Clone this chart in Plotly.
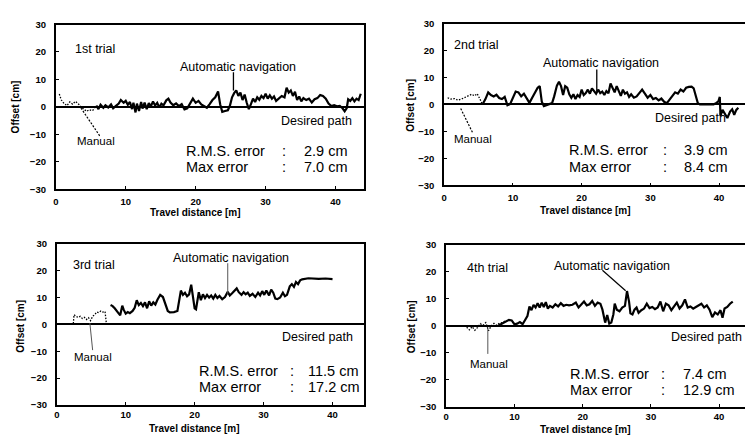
import plotly.graph_objects as go

# ---- Trial 1 ----
t1_manual_x = [0.5, 0.8, 1.2, 1.6, 2.0, 2.4, 2.8, 3.2, 3.6, 4.0, 4.4, 4.8, 5.2, 5.6]
t1_manual_y = [4.7, 2.5, 1.2, 0.5, 1.8, 1.0, 2.0, 1.2, 0.0, -0.8, -1.6, -1.0, -1.4, -0.6]
t1_auto_x = [5.8, 6.1, 6.4, 6.8, 7.1, 7.5, 7.9, 8.2, 8.6, 9.0, 9.3, 9.7, 10.0, 10.3, 10.6,
             10.9, 11.1, 11.4, 11.6, 11.9, 12.2, 12.4, 12.7, 13.0, 13.3, 13.6, 13.9, 14.2,
             14.5, 14.8, 15.1, 15.4, 15.8, 16.1, 16.4, 16.8, 17.2, 17.6, 18.0, 18.4, 18.8,
             19.2, 19.6, 20.0, 20.4, 20.8, 21.2, 21.6, 22.0, 22.4, 22.8, 23.2, 23.5, 23.8,
             24.2, 24.6, 24.9, 25.2, 25.5, 25.8, 26.1, 26.4, 26.7, 27.0, 27.3, 27.6, 27.9,
             28.2, 28.5, 28.8, 29.1, 29.4, 29.7, 30.0, 30.3, 30.6, 30.9, 31.2, 31.5, 31.9,
             32.3, 32.7, 33.0, 33.3, 33.6, 33.9, 34.2, 34.5, 34.8, 35.1, 35.4, 35.8, 36.2,
             36.6, 37.0, 37.4, 37.8, 38.2, 38.6, 39.0, 39.4, 39.8, 40.2, 40.6, 41.0, 41.3,
             41.6, 41.8, 42.1, 42.4, 42.7, 43.0, 43.3, 43.6]
t1_auto_y = [0.5, -0.8, 0.8, -0.3, 0.6, -0.2, 0.9, -0.5, 0.4, 1.2, 2.5, 1.5, 2.2, 0.8, 1.8,
             -0.8, 1.5, -2.0, 1.2, -1.5, 1.8, -0.6, 1.6, -0.8, 1.4, 0.2, 2.0, 0.5,
             1.5, -0.2, 1.2, 0.6, 2.4, 3.0, 1.6, 0.6, 1.3, 0.3, 1.0, -0.9, -0.5,
             1.2, 3.0, 1.5, 2.2, 0.9, 0.2, -0.3, 1.0, 2.5, 3.5, 5.6, 1.0, -1.8,
             -1.5, -1.2, 0.5, 3.5, 5.0, 6.0, 4.0, 5.2, 2.5, 4.5, 1.5, -0.8, 1.0,
             3.0, 1.8, 3.5, 2.6, 4.0, 3.2, 4.8, 3.0, 4.2, 3.0, 3.8, 2.2, 3.2,
             4.0, 3.5, 7.0, 5.2, 6.0, 4.0, 5.5, 2.5, 3.8, 2.0, 3.2, 2.5, 3.0,
             1.6, 2.8, 3.2, 4.3, 4.0, 3.0, 1.2, 0.3, 0.6, 0.2, 0.4, -0.5, -1.6,
             -0.4, 2.8, 2.2, 3.2, 2.0, 3.0, 2.5, 4.8]

# ---- Trial 2 ----
t2_manual_x = [0.5, 1.0, 1.5, 2.0, 2.5, 3.0, 3.5, 4.0, 4.4, 4.8, 5.2, 5.5]
t2_manual_y = [2.5, 2.0, 2.2, 1.6, 2.0, 2.6, 3.0, 3.8, 3.2, 4.0, 2.0, 0.3]
t2_auto_x = [5.6, 6.0, 6.4, 6.8, 7.2, 7.6, 8.0, 8.4, 8.8, 9.2, 9.6, 10.0, 10.4, 10.8, 11.2,
             11.6, 12.0, 12.4, 12.8, 13.2, 13.6, 13.9, 14.2, 14.5, 14.9, 15.3, 15.7, 16.0,
             16.4, 16.7, 17.0, 17.3, 17.6, 17.9, 18.2, 18.5, 18.8, 19.1, 19.4, 19.7, 20.0,
             20.3, 20.6, 20.9, 21.2, 21.5, 21.8, 22.1, 22.4, 22.7, 23.0, 23.3, 23.6, 23.9,
             24.2, 24.5, 24.8, 25.1, 25.4, 25.7, 26.0, 26.3, 26.6, 26.9, 27.2, 27.6, 28.0,
             28.4, 28.8, 29.2, 29.6, 30.0, 30.4, 30.8, 31.2, 31.6, 32.0, 32.4, 32.8, 33.2,
             33.6, 34.0, 34.4, 34.8, 35.2, 35.6, 36.0, 36.3, 36.6, 36.9, 37.2, 38.0, 39.2,
             39.6, 39.9, 40.1, 40.2, 40.5, 40.9, 41.2, 41.6, 41.9, 42.2, 42.5, 42.8]
t2_auto_y = [0.2, 2.0, 4.5, 3.5, 3.0, 3.6, 2.4, 2.0, 2.8, -0.3, 0.2, 2.5, 4.8, 4.5, 3.0,
             4.0, 2.0, 0.6, 2.5, 4.5, 6.2, 6.8, 1.0, -0.6, -0.3, 0.2, 0.5, 3.0,
             7.0, 8.4, 6.8, 3.5, 6.8, 6.2, 3.8, 2.5, 3.8, 2.0, 3.5, 2.8, 5.5,
             3.5, 4.2, 5.5, 4.0, 6.0, 5.0, 4.0, 5.5, 4.2, 4.8, 3.5, 5.0, 4.2,
             7.8, 6.0, 4.5, 6.8, 5.0, 3.2, 5.5, 4.0, 4.5, 2.8, 3.8, 2.5, 3.0,
             4.2, 5.5, 4.0, 2.5, 3.5, 2.0, 2.4, 1.5, 2.2, 1.0, 0.5, 1.8, 3.0,
             4.5, 4.0, 5.5, 4.8, 6.2, 6.5, 6.6, 6.0, 3.0, 0.5, 0.0, 0.0, 0.0,
             0.6, 1.2, 2.8, -4.2, -2.0, -3.5, -5.0, -2.6, -1.8, -3.8, -2.0, -1.2]

# ---- Trial 3 ----
t3_manual_x = [2.4, 2.5, 2.8, 3.1, 3.4, 3.7, 4.0, 4.3, 4.6, 4.9, 5.2, 5.5, 5.8, 6.1, 6.4,
               6.7, 7.0, 7.2]
t3_manual_y = [0.3, 3.6, 3.0, 2.6, 3.0, 2.2, 2.6, 1.8, 2.5, 1.4, 3.0, 3.6, 4.6, 4.4, 5.0,
               4.6, 4.8, 0.2]
t3_auto_x = [7.8, 8.1, 8.4, 8.7, 9.0, 9.2, 9.5, 9.7, 10.0, 10.3, 10.6, 11.0, 11.3, 11.6,
             11.9, 12.2, 12.5, 12.8, 13.1, 13.4, 13.7, 14.0, 14.3, 14.6, 15.0, 15.4, 15.8,
             16.1, 16.4, 17.0, 17.5, 17.8, 18.0, 18.3, 18.6, 18.9, 19.2, 19.5, 19.8, 20.0,
             20.2, 20.4, 20.6, 20.9, 21.2, 21.5, 21.8, 22.1, 22.4, 22.7, 23.0, 23.3, 23.6,
             24.0, 24.4, 24.8, 25.1, 25.4, 25.8, 26.1, 26.4, 26.8, 27.1, 27.4, 27.7, 28.0,
             28.4, 28.8, 29.2, 29.5, 29.8, 30.1, 30.4, 30.8, 31.1, 31.4, 31.7, 32.0, 32.4,
             32.8, 33.1, 33.4, 33.8, 34.1, 34.4, 34.7, 35.0, 35.3, 35.6, 36.5, 38.0, 39.0,
             40.0]
t3_auto_y = [7.2, 6.8, 6.0, 5.2, 4.0, 3.4, 7.0, 5.5, 4.0, 4.6, 4.2, 5.0, 6.2, 9.0,
             7.2, 8.0, 6.8, 8.2, 6.0, 8.6, 7.0, 8.2, 7.4, 9.2, 11.0, 10.2, 7.5,
             5.0, 4.5, 4.6, 5.0, 9.0, 12.6, 11.0, 11.8, 10.5, 11.2, 14.8, 10.0, 6.0,
             5.6, 9.5, 12.0, 9.0, 11.2, 9.8, 11.0, 10.0, 10.8, 9.6, 11.0, 9.8, 10.6,
             9.4, 10.2, 12.2, 10.8, 11.5, 12.8, 13.4, 12.0, 11.0, 12.0, 11.2, 11.8, 10.6,
             11.4, 10.2, 11.8, 10.8, 12.4, 11.0, 12.6, 10.8, 13.0, 11.8, 9.6, 9.4, 10.0,
             11.8, 10.5, 11.0, 14.2, 15.0, 14.0, 15.8, 15.0, 16.4, 16.8, 17.2, 17.0, 17.1,
             16.9]

# ---- Trial 4 ----
t4_manual_x = [3.0, 3.4, 3.8, 4.2, 4.6, 5.0, 5.4, 5.8, 6.2, 6.6, 7.0, 7.4, 7.8, 8.2, 8.6]
t4_manual_y = [-0.5, -1.5, -0.3, -1.6, -0.6, 0.8, 0.2, 1.2, -1.8, 0.0, 0.9, 0.2, 1.0, 1.2, 1.8]
t4_auto_x = [7.6, 8.0, 8.4, 8.8, 9.2, 9.6, 10.0, 10.4, 10.8, 11.2, 11.6, 11.9, 12.2, 12.5,
             12.8, 13.1, 13.4, 13.7, 14.0, 14.3, 14.6, 14.9, 15.2, 15.6, 16.0, 16.4, 16.8,
             17.2, 17.6, 18.0, 18.5, 19.0, 19.4, 19.8, 20.2, 20.6, 21.0, 21.4, 21.8, 22.2,
             22.6, 22.9, 23.1, 23.3, 23.6, 23.9, 24.2, 24.5, 24.7, 25.0, 25.4, 25.8, 26.2,
             26.5, 26.8, 27.0, 27.3, 27.6, 27.9, 28.2, 28.6, 29.0, 29.4, 29.8, 30.2, 30.6,
             31.0, 31.4, 31.8, 32.2, 32.6, 33.0, 33.4, 33.8, 34.2, 34.6, 35.0, 35.4, 35.8,
             36.2, 36.6, 37.0, 37.4, 37.8, 38.2, 38.6, 39.0, 39.4, 39.8, 40.2, 40.5, 40.8,
             41.2, 41.6, 42.0]
t4_auto_y = [0.0, 0.6, 1.2, 1.8, 2.2, 2.0, 0.6, 0.8, 1.4, 0.6, 2.4, 3.6, 7.2, 5.8,
             7.8, 6.8, 8.4, 6.8, 8.6, 7.0, 8.8, 6.4, 7.4, 6.8, 8.0, 7.2, 8.4,
             7.4, 7.8, 7.6, 7.8, 8.6, 6.8, 7.8, 9.0, 7.6, 8.0, 9.2, 7.4, 8.6,
             8.2, 6.0, 3.0, 1.2, 4.0, 0.8, 1.2, 4.2, 8.2, 6.0, 5.4, 6.8, 7.4,
             12.9, 9.0, 4.6, 4.2, 6.0, 6.8, 4.8, 5.8, 6.4, 8.2, 6.6, 7.0, 6.2,
             6.8, 9.0, 5.4, 8.2, 7.6, 5.8, 7.2, 8.6, 6.4, 7.6, 9.8, 6.8, 7.2,
             6.4, 7.0, 7.6, 8.2, 6.8, 7.6, 6.0, 3.2, 5.0, 4.2, 5.8, 3.0, 6.4,
             7.0, 8.2, 9.0]

trial_names = ["1st trial", "2nd trial", "3rd trial", "4th trial"]
rms_errors = [2.9, 3.9, 11.5, 7.4]
max_errors = [7.0, 8.4, 17.2, 12.9]

x_ticks = [0, 10, 20, 30, 40]
y_ticks = [-30, -20, -10, 0, 10, 20, 30]

FONT = "Liberation Sans, Arial, sans-serif"
W, H = 745, 442

manual = [(t1_manual_x, t1_manual_y), (t2_manual_x, t2_manual_y),
          (t3_manual_x, t3_manual_y), (t4_manual_x, t4_manual_y)]
auto = [(t1_auto_x, t1_auto_y), (t2_auto_x, t2_auto_y),
        (t3_auto_x, t3_auto_y), (t4_auto_x, t4_auto_y)]

# plot-area pixel boxes: (left, right, top, bottom)
boxes = [(53, 362, 19, 188), (443, 745, 18, 184), (54, 362, 244, 409), (445, 745, 245, 411)]
x_ranges = [[0, 44], [0, (745 - 443) / 6.9], [0, 44.5], [0, 300 / 6.85]]
x_label_standoff = [2, 2, 0, 0]

fig = go.Figure()
layout = dict(width=W, height=H, margin=dict(l=0, r=0, t=0, b=0),
              paper_bgcolor="white", plot_bgcolor="white", showlegend=False,
              font=dict(family=FONT, color="black"))

for i in range(4):
    sfx = "" if i == 0 else str(i + 1)
    xa, ya = "x" + sfx, "y" + sfx
    mx, my = manual[i]
    ax_, ay_ = auto[i]
    fig.add_trace(go.Scatter(x=mx, y=my, mode="lines", xaxis=xa, yaxis=ya,
                             line=dict(color="black", width=1.3, dash="1.5px,1.5px")))
    fig.add_trace(go.Scatter(x=ax_, y=ay_, mode="lines", xaxis=xa, yaxis=ya,
                             line=dict(color="black", width=2.2)))
    l, r, t, b = boxes[i]
    right_panel = i in (1, 3)
    layout["xaxis" + sfx] = dict(
        domain=[l / W, r / W], range=x_ranges[i], anchor=ya,
        tickvals=x_ticks, ticks="inside", ticklen=3, tickwidth=1, tickcolor="black",
        showline=True, linecolor="black", linewidth=1.8, mirror=True,
        showgrid=False, zeroline=False,
        tickfont=dict(family=FONT, size=9.5, color="black", weight="bold"),
        ticklabelstandoff=x_label_standoff[i])
    layout["yaxis" + sfx] = dict(
        domain=[1 - b / H, 1 - t / H], range=[-30, 30], anchor=xa,
        tickvals=y_ticks, ticks="inside", ticklen=3, tickwidth=1, tickcolor="black",
        showline=True, linecolor="black", linewidth=1.8, mirror=not right_panel,
        showgrid=False, zeroline=True, zerolinecolor="black", zerolinewidth=1.8,
        tickfont=dict(family=FONT, size=9.5, color="black", weight="bold"),
        ticklabelstandoff=6)

fig.update_layout(**layout)

ann = []
shapes = []


def txt(text, x, y, ref, size, xanchor="left", bold=False, **kw):
    ann.append(dict(text=text, x=x, y=y, xref="x" + ref, yref="y" + ref,
                    showarrow=False, xanchor=xanchor, yanchor="middle",
                    font=dict(family=FONT, size=size, color="black",
                              weight="bold" if bold else "normal"), **kw))


def seg(x0, y0, x1, y1, ref, dash="solid", width=1.0, color="black"):
    shapes.append(dict(type="line", xref="x" + ref, yref="y" + ref,
                       x0=x0, y0=y0, x1=x1, y1=y1,
                       line=dict(color=color, width=width, dash=dash)))


# per-panel label positions (data units)
label_pos = [
    dict(trial=(2.4, 21.0), auto=(26.1, 14.5), desired=(42.7, -5.0), manual=(2.7, -12.4),
         rms_y=-16.0, max_y=-22.0, col=(18.4, 32.0, 35.2)),
    dict(trial=(1.2, 22.1), auto=(22.8, 15.3), desired=(41.3, -4.9), manual=(1.2, -12.8),
         rms_y=-17.0, max_y=-23.2, col=(17.9, 31.6, 34.6)),
    dict(trial=(2.1, 22.1), auto=(25.2, 24.9), desired=(43.2, -4.8), manual=(2.2, -12.2),
         rms_y=-17.3, max_y=-23.3, col=(20.4, 33.6, 36.2)),
    dict(trial=(2.7, 21.5), auto=(24.3, 22.2), desired=(43.6, -4.0), manual=(3.2, -14.0),
         rms_y=-17.8, max_y=-23.8, col=(17.8, 31.2, 34.4)),
]

for i in range(4):
    ref = "" if i == 0 else str(i + 1)
    p = label_pos[i]
    txt(trial_names[i], p["trial"][0], p["trial"][1], ref, 12.5)
    txt("Automatic navigation", p["auto"][0], p["auto"][1], ref, 12.5, xanchor="center")
    txt("Desired path", p["desired"][0], p["desired"][1], ref, 12.5, xanchor="right")
    txt("Manual", p["manual"][0], p["manual"][1], ref, 11.5)
    c0, c1, c2 = p["col"]
    txt("R.M.S. error", c0, p["rms_y"], ref, 14.5)
    txt(":", c1, p["rms_y"], ref, 14.5)
    txt(f"{rms_errors[i]:.1f} cm", c2, p["rms_y"], ref, 14.5)
    txt("Max error", c0, p["max_y"], ref, 14.5)
    txt(":", c1, p["max_y"], ref, 14.5)
    txt(f"{max_errors[i]:.1f} cm", c2, p["max_y"], ref, 14.5)

# leader lines
seg(25.4, 12.6, 25.4, 6.0, "", width=1.3)
seg(3.6, -0.4, 6.3, -10.6, "", dash="2px,1.5px", width=1.2)
seg(22.2, 13.0, 22.2, 5.0, "2", width=1.3)
seg(2.4, -1.5, 4.2, -10.8, "2", dash="2px,1.5px", width=1.2)
seg(24.8, 22.8, 24.8, 11.4, "3", width=1.0, color="#555")
seg(4.8, 0.5, 5.2, -9.6, "3", width=1.0, color="#555")
seg(22.9, 20.6, 26.3, 13.0, "4", width=1.2)
seg(6.1, -1.0, 6.1, -10.4, "4", width=1.0, color="#555")

# axis titles
for (cx, cy) in [(193, 212), (585, 210), (192, 433), (585, 434)]:
    ann.append(dict(text="Travel distance [m]", x=cx / W, y=1 - cy / H, xref="paper",
                    yref="paper", showarrow=False, xanchor="center", yanchor="middle",
                    font=dict(family=FONT, size=10, color="black", weight="bold")))
for (cx, cy) in [(12, 103), (409, 102), (18, 328), (410, 329)]:
    ann.append(dict(text="Offset [cm]", x=cx / W, y=1 - cy / H, xref="paper",
                    yref="paper", showarrow=False, xanchor="center", yanchor="middle",
                    textangle=-90,
                    font=dict(family=FONT, size=10, color="black", weight="bold")))

fig.update_layout(annotations=ann, shapes=shapes)
fig.write_html("out.html")
